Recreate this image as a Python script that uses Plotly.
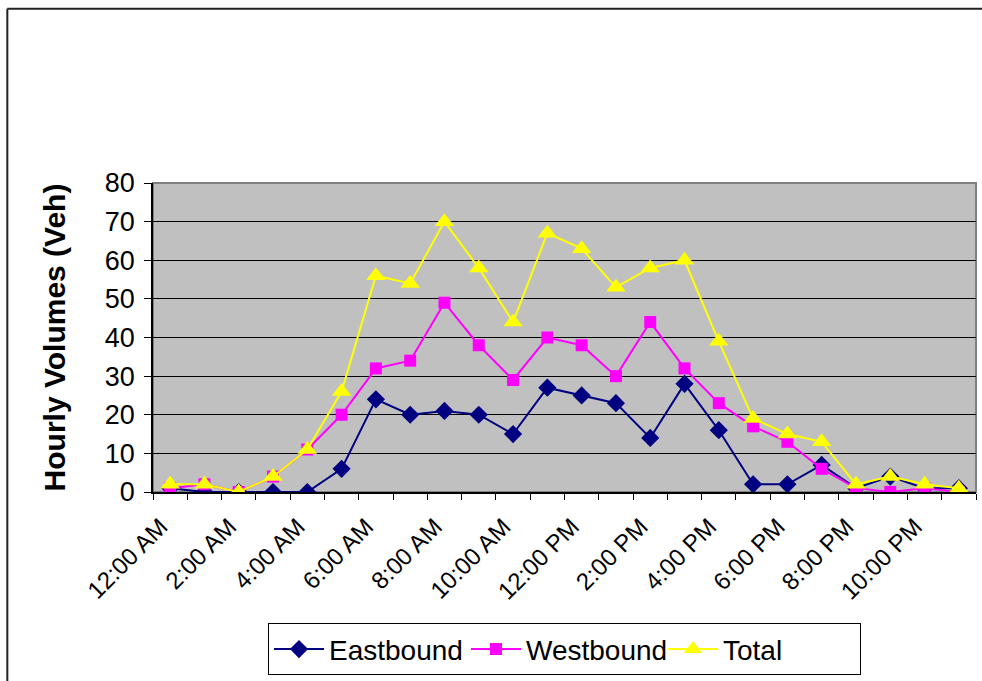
import plotly.graph_objects as go

hours = ["12:00 AM", "1:00 AM", "2:00 AM", "3:00 AM", "4:00 AM", "5:00 AM",
         "6:00 AM", "7:00 AM", "8:00 AM", "9:00 AM", "10:00 AM", "11:00 AM",
         "12:00 PM", "1:00 PM", "2:00 PM", "3:00 PM", "4:00 PM", "5:00 PM",
         "6:00 PM", "7:00 PM", "8:00 PM", "9:00 PM", "10:00 PM", "11:00 PM"]
tick_labels = ["12:00 AM", "", "2:00 AM", "", "4:00 AM", "", "6:00 AM", "",
               "8:00 AM", "", "10:00 AM", "", "12:00 PM", "", "2:00 PM", "",
               "4:00 PM", "", "6:00 PM", "", "8:00 PM", "", "10:00 PM", ""]

eastbound = [1, 0, 0, 0, 0, 6, 24, 20, 21, 20, 15, 27,
             25, 23, 14, 28, 16, 2, 2, 7, 1, 4, 1, 1]
westbound = [1, 2, 0, 4, 11, 20, 32, 34, 49, 38, 29, 40,
             38, 30, 44, 32, 23, 17, 13, 6, 1, 0, 1, 0]
total = [2, 2, 0, 4, 11, 26, 56, 54, 70, 58, 44, 67,
         63, 53, 58, 60, 39, 19, 15, 13, 2, 4, 2, 1]

FONT = "Liberation Sans, Arial, sans-serif"

# pad labels so the rotated text ends at the category centre
shown_labels = [t + "\u00a0\u00a0" if t else t for t in tick_labels]

fig = go.Figure()
fig.add_trace(go.Scatter(x=hours, y=eastbound, name="Eastbound", mode="lines+markers",
                         line=dict(color="#000080", width=2),
                         marker=dict(symbol="diamond", size=14, color="#000080")))
fig.add_trace(go.Scatter(x=hours, y=westbound, name="Westbound", mode="lines+markers",
                         line=dict(color="#FF00FF", width=2),
                         marker=dict(symbol="square", size=12, color="#FF00FF")))
fig.add_trace(go.Scatter(x=hours, y=total, name="Total", mode="lines+markers",
                         line=dict(color="#FFFF00", width=2),
                         marker=dict(symbol="triangle-up", size=17, color="#FFFF00")))

fig.update_layout(
    width=982, height=681,
    margin=dict(l=153, r=6, t=183, b=186),
    paper_bgcolor="white",
    plot_bgcolor="#C0C0C0",
    font=dict(family=FONT, color="black"),
    showlegend=True,
    legend=dict(orientation="h", x=0.5, xanchor="center", y=-0.425, yanchor="top",
                bgcolor="white", bordercolor="black", borderwidth=1,
                font=dict(size=28, family=FONT), itemwidth=50,
                entrywidth=132, entrywidthmode="pixels"),
    xaxis=dict(type="category", tickmode="array", tickvals=hours, ticktext=shown_labels,
               tickson="boundaries", ticks="outside", ticklen=6, tickcolor="black",
               tickangle=-45, tickfont=dict(size=24, family=FONT), ticklabelstandoff=0,
               showline=True, linecolor="black", linewidth=1.5,
               showgrid=False, range=[-0.5, 23.5]),
    yaxis=dict(range=[0, 80], dtick=10, ticks="outside", ticklen=7, tickcolor="black",
               tickfont=dict(size=27, family=FONT), ticklabelstandoff=4,
               showline=True, linecolor="black", linewidth=1.5,
               showgrid=True, gridcolor="black", gridwidth=1, zeroline=False,
               title=dict(text="<b>Hourly Volumes (Veh)</b>", font=dict(size=30, family=FONT),
                          standoff=30)),
    shapes=[
        dict(type="rect", xref="paper", yref="paper", x0=0, x1=1, y0=0, y1=1,
             line=dict(color="#808080", width=2), layer="below"),
        dict(type="line", xref="paper", yref="paper", x0=-0.177, x1=1.1, y0=1.564, y1=1.564,
             line=dict(color="#222222", width=2)),
        dict(type="line", xref="paper", yref="paper", x0=-0.177, x1=-0.177, y0=1.564, y1=-0.7,
             line=dict(color="#222222", width=2)),
    ],
)

fig.write_html("out.html")
